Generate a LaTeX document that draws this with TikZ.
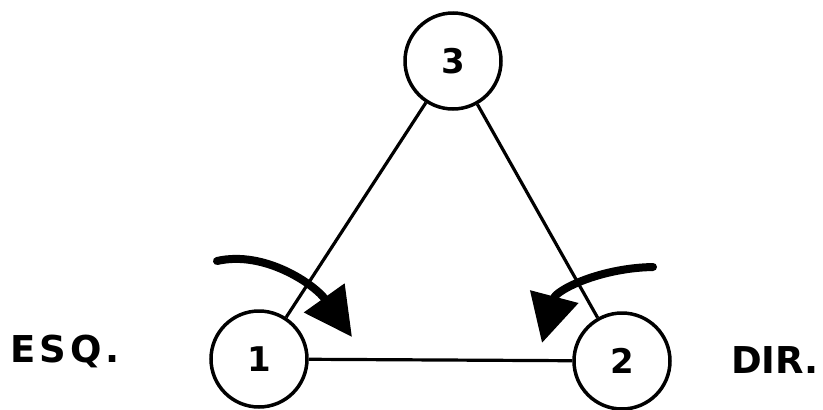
\documentclass[tikz,border=0pt]{standalone}
\usepackage{fontspec}
\setsansfont{DejaVu Sans}
\newfontfamily\widelettering[LetterSpace=10]{DejaVu Sans}
\usepackage{tikz}
\usetikzlibrary{arrows.meta, positioning}

\begin{document}
\begin{tikzpicture}[
    x=1pt, y=-1pt,
    joint/.style={draw, circle, line width=3.5pt, minimum size=96pt, inner sep=0pt,
      font=\sffamily\bfseries\fontsize{34}{36}\selectfont},
    side/.style={anchor=base, inner sep=0pt,
      font=\sffamily\bfseries\fontsize{37}{40}\selectfont},
    bar/.style={line width=3.2pt},
    turn/.style={line width=8pt, line cap=round,
      -{Triangle[length=48pt, width=48pt]}}
]
\useasboundingbox (0,0) rectangle (823,410);

\node[joint] (n3) at (453,61) {3};
\node[joint] (n1) at (259,359) {1};
\node[joint] (n2) at (622,361) {2};

\node[side] (esq) at (65,362) {\widelettering ESQ.};
\node[side] (dir) at (775,373) {DIR.};

\draw[bar] (n3) -- (n1);
\draw[bar] (n3) -- (n2);
\draw[bar] (n1) -- (n2);

% rotation arrows
\coordinate (l_start) at (217,261);
\coordinate (l_tip) at (352,337);
\coordinate (r_start) at (653,267);
\coordinate (r_tip) at (542,343);

\draw[turn] (l_start) .. controls (265,250) and (315,285) .. (l_tip);
\draw[turn] (r_start) .. controls (600,268) and (556,290) .. (r_tip);
\end{tikzpicture}
\end{document}
